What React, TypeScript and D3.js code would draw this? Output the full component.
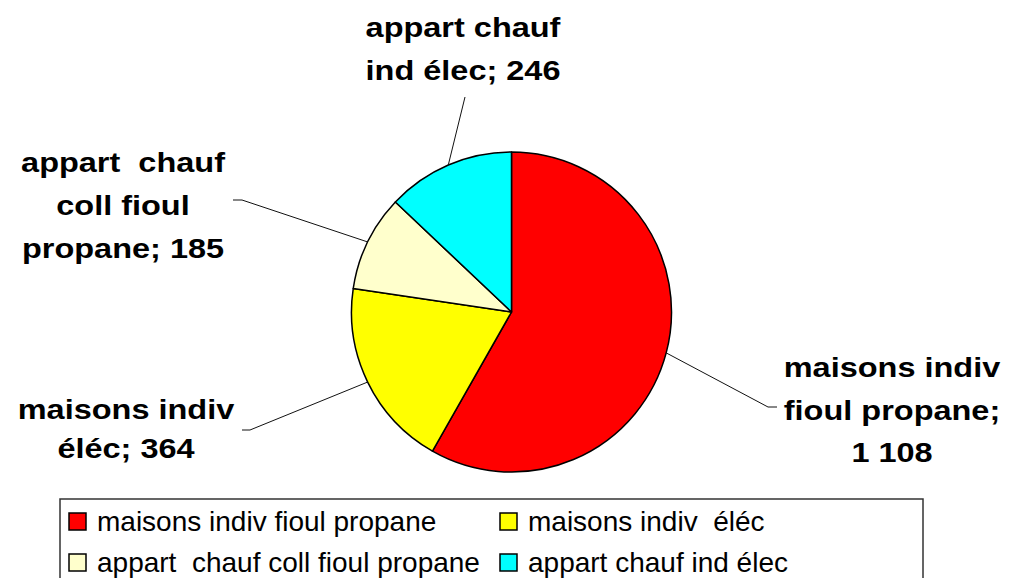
import React, { useEffect, useRef } from 'react';
import * as d3 from 'd3';

// pie data
const categories = [
  'maisons indiv fioul propane',
  'maisons indiv  éléc',
  'appart  chauf coll fioul propane',
  'appart chauf ind élec',
];
const values = [1108, 364, 185, 246];
const colors = ['#ff0000', '#ffff00', '#ffffcc', '#00ffff'];

// how each data label is wrapped
const labelNames = [
  ['maisons indiv', 'fioul propane'],
  ['maisons indiv', 'éléc'],
  ['appart  chauf', 'coll fioul', 'propane'],
  ['appart chauf', 'ind élec'],
];
const valueOnOwnLine = [true, false, false, false];

const W = 1009;
const H = 578;
const FONT = '"Liberation Sans", Arial, Helvetica, sans-serif';

const frFormat = d3.formatLocale({
  decimal: ',',
  thousands: ' ',
  grouping: [3],
  currency: ['', ' €'],
}).format(',d');

export default function App() {
  const svgRef = useRef<SVGSVGElement>(null);

  useEffect(() => {
    if (!svgRef.current) return;
    const svg = d3.select(svgRef.current);
    svg.selectAll('*').remove();

    const cx = 511.5;
    const cy = 312;
    const radius = 160;

    // label layout: centre x, first baseline, line step, leader path after the pie edge
    const layout = [
      { x: 892, y: 377, dy: 42.5, leader: [[768, 407], [777, 407]] },
      { x: 126, y: 419, dy: 39, leader: [[250, 430], [242, 430]] },
      { x: 123, y: 172, dy: 43, leader: [[242, 200], [233, 200]] },
      { x: 463, y: 37, dy: 43, leader: [[465, 97]] },
    ];

    const pie = d3
      .pie<number>()
      .sort(null)
      .value((d) => d);
    const arcs = pie(values);
    const arc = d3.arc<d3.PieArcDatum<number>>().innerRadius(0).outerRadius(radius);

    const g = svg.append('g').attr('transform', `translate(${cx},${cy})`);

    g.selectAll('path.slice')
      .data(arcs)
      .enter()
      .append('path')
      .attr('class', 'slice')
      .attr('d', arc)
      .attr('fill', (d, i) => colors[i])
      .attr('stroke', '#000')
      .attr('stroke-width', 1.5)
      .attr('stroke-linejoin', 'round');

    // leader lines
    const line = d3.line();
    arcs.forEach((a, i) => {
      const mid = (a.startAngle + a.endAngle) / 2;
      const start: [number, number] = [cx + radius * Math.sin(mid), cy - radius * Math.cos(mid)];
      const pts = [start, ...(layout[i].leader as [number, number][])];
      svg
        .append('path')
        .attr('d', line(pts))
        .attr('fill', 'none')
        .attr('stroke', '#111')
        .attr('stroke-width', 1);
    });

    // data labels
    arcs.forEach((a, i) => {
      const names = labelNames[i].slice();
      const v = frFormat(values[i]);
      const lines = valueOnOwnLine[i]
        ? [...names.slice(0, -1), names[names.length - 1] + ';', v]
        : [...names.slice(0, -1), names[names.length - 1] + '; ' + v];
      const L = layout[i];
      lines.forEach((t, k) => {
        svg
          .append('text')
          .attr('transform', `translate(${L.x},${L.y + k * L.dy}) scale(1.16,1)`)
          .attr('text-anchor', 'middle')
          .style('font-family', FONT)
          .style('font-weight', 'bold')
          .style('font-size', '28px')
          .style('white-space', 'pre')
          .attr('fill', '#000')
          .text(t);
      });
    });

    // legend
    const legend = svg.append('g');
    legend
      .append('rect')
      .attr('x', 60)
      .attr('y', 499)
      .attr('width', 863)
      .attr('height', 110)
      .attr('fill', '#fff')
      .attr('stroke', '#333')
      .attr('stroke-width', 1.5);

    const colX = [69, 500];
    const rowY = [531, 572];
    categories.forEach((c, i) => {
      const col = i % 2;
      const row = Math.floor(i / 2);
      legend
        .append('rect')
        .attr('x', colX[col])
        .attr('y', rowY[row] - 18)
        .attr('width', 17)
        .attr('height', 17)
        .attr('fill', colors[i])
        .attr('stroke', '#000')
        .attr('stroke-width', 1.5);
      legend
        .append('text')
        .attr('x', colX[col] + 28)
        .attr('y', rowY[row])
        .style('font-family', FONT)
        .style('font-size', '28px')
        .style('white-space', 'pre')
        .attr('fill', '#000')
        .text(c);
    });
  }, []);

  return (
    <div style={{ position: 'absolute', left: 0, top: 0, width: W, height: H, background: '#fff' }}>
      <svg ref={svgRef} width={W} height={H} style={{ display: 'block', overflow: 'hidden' }} />
    </div>
  );
}
